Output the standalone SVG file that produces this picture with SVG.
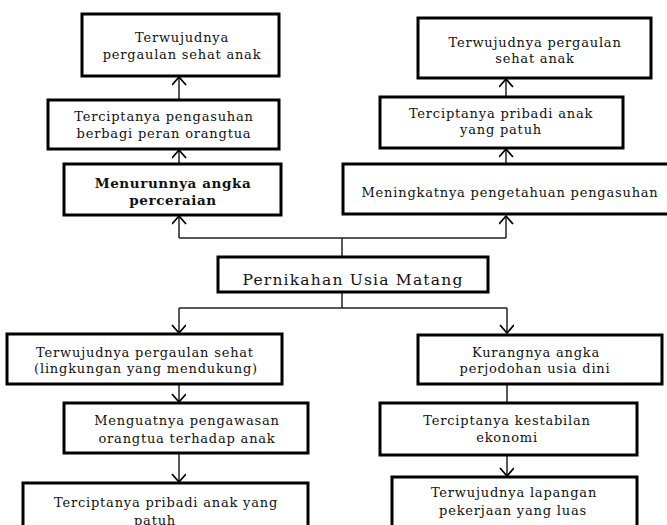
<svg xmlns="http://www.w3.org/2000/svg" width="667" height="525" viewBox="0 0 667 525">
<defs>
<style>
.box{fill:#fff;stroke:#000;stroke-width:3}
.t{font-family:"DejaVu Serif","Liberation Serif",serif;font-size:13px;letter-spacing:0.8px;fill:#111;text-anchor:middle}
.b{font-weight:bold;font-size:13.5px;letter-spacing:0.6px}
.big{font-size:15.5px;letter-spacing:1.2px}
.c{fill:none;stroke:#222;stroke-width:1.5}
</style>
<marker id="ah" markerUnits="userSpaceOnUse" markerWidth="20" markerHeight="20" refX="9" refY="7" orient="auto" viewBox="0 0 20 20">
<path d="M1,0 L9,7 L1,14" fill="none" stroke="#000" stroke-width="1.8"/>
</marker>
</defs>
<rect width="667" height="525" fill="#fff"/>
<g id="connectors">
<path class="c" d="M179,99 V77" marker-end="url(#ah)"/>
<path class="c" d="M179,163 V150" marker-end="url(#ah)"/>
<path class="c" d="M342,257 V238 M179,238 H506"/>
<path class="c" d="M179,238 V216" marker-end="url(#ah)"/>
<path class="c" d="M506,238 V216" marker-end="url(#ah)"/>
<path class="c" d="M506,163 V149" marker-end="url(#ah)"/>
<path class="c" d="M506,96 V79" marker-end="url(#ah)"/>
<path class="c" d="M342,292 V308 M179,308 H507"/>
<path class="c" d="M179,308 V333" marker-end="url(#ah)"/>
<path class="c" d="M507,308 V333" marker-end="url(#ah)"/>
<path class="c" d="M179,384 V402" marker-end="url(#ah)"/>
<path class="c" d="M179,453 V482" marker-end="url(#ah)"/>
<path class="c" d="M507,384 V402"/>
<path class="c" d="M507,455 V476" marker-end="url(#ah)"/>
</g>
<g id="n1"><rect class="box" x="82" y="14" width="197" height="62"/>
<text class="t" x="182" y="42">Terwujudnya</text><text class="t" x="182" y="59">pergaulan sehat anak</text></g>
<g id="n2"><rect class="box" x="48" y="100" width="231" height="49"/>
<text class="t" x="164" y="121">Terciptanya pengasuhan</text><text class="t" x="164" y="138">berbagi peran orangtua</text></g>
<g id="n3"><rect class="box" x="64" y="164" width="217" height="51"/>
<text class="t b" x="173" y="188">Menurunnya angka</text><text class="t b" x="173" y="205">perceraian</text></g>
<g id="n4"><rect class="box" x="418" y="18" width="233" height="60"/>
<text class="t" x="535" y="47">Terwujudnya pergaulan</text><text class="t" x="535" y="63">sehat anak</text></g>
<g id="n5"><rect class="box" x="380" y="97" width="243" height="51"/>
<text class="t" x="501" y="118">Terciptanya pribadi anak</text><text class="t" x="501" y="134">yang patuh</text></g>
<g id="n6"><rect class="box" x="343" y="164" width="330" height="50"/>
<text class="t" x="510" y="197">Meningkatnya pengetahuan pengasuhan</text></g>
<g id="center"><rect class="box" x="218" y="257" width="270" height="35"/>
<text class="t big" x="353" y="285">Pernikahan Usia Matang</text></g>
<g id="l1"><rect class="box" x="7" y="334" width="275" height="50"/>
<text class="t" x="145" y="357">Terwujudnya pergaulan sehat</text><text class="t" x="146" y="373">(lingkungan yang mendukung)</text></g>
<g id="l2"><rect class="box" x="64" y="403" width="244" height="50"/>
<text class="t" x="187" y="425">Menguatnya pengawasan</text><text class="t" x="187" y="443">orangtua terhadap anak</text></g>
<g id="l3"><rect class="box" x="23" y="483" width="285" height="60"/>
<text class="t" x="166" y="507">Terciptanya pribadi anak yang</text><text class="t" x="155" y="525">patuh</text></g>
<g id="r1"><rect class="box" x="418" y="335" width="244" height="49"/>
<text class="t" x="536" y="357">Kurangnya angka</text><text class="t" x="535" y="373">perjodohan usia dini</text></g>
<g id="r2"><rect class="box" x="380" y="403" width="257" height="52"/>
<text class="t" x="507" y="425">Terciptanya kestabilan</text><text class="t" x="507" y="442">ekonomi</text></g>
<g id="r3"><rect class="box" x="392" y="477" width="245" height="60"/>
<text class="t" x="514" y="497">Terwujudnya lapangan</text><text class="t" x="513" y="515">pekerjaan yang luas</text></g>
</svg>
